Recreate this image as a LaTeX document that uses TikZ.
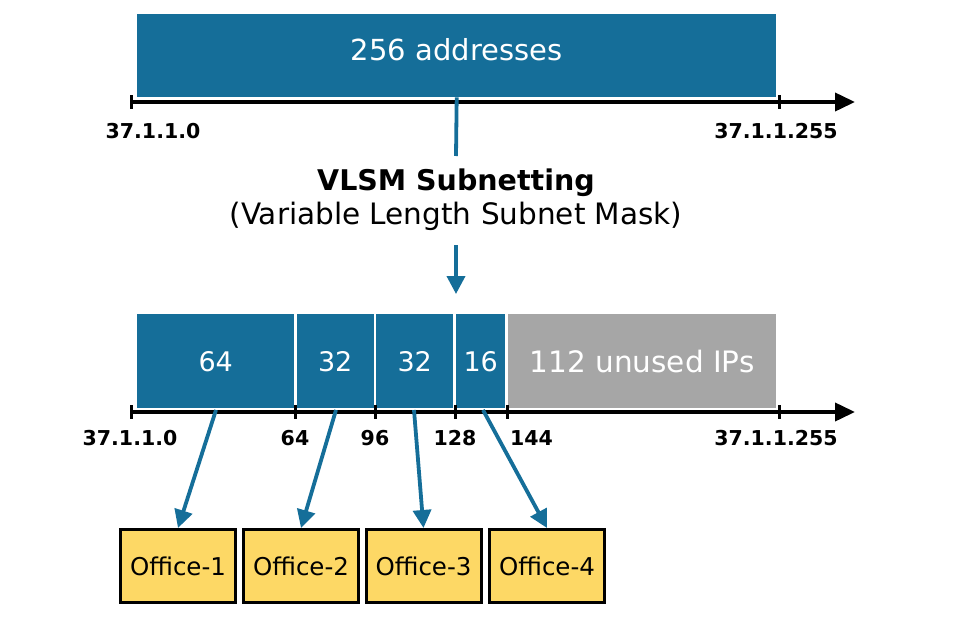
\documentclass[tikz,border=0pt]{standalone}
\usepackage{fontspec}
\setmainfont{DejaVu Sans}
\usetikzlibrary{arrows.meta}
\definecolor{segblue}{HTML}{156E99}
\definecolor{seggray}{HTML}{A6A6A6}
\definecolor{officey}{HTML}{FDD865}
\tikzset{
  seg/.style={fill=segblue, draw=none, text=white, inner sep=0pt, minimum height=94pt, anchor=north west, font=\fontsize{27}{30}\selectfont},
  unused/.style={fill=seggray, draw=none, text=white, inner sep=0pt, minimum height=94pt, anchor=north west, font=\fontsize{29.5}{32}\selectfont},
  axisline/.style={line width=3.8pt, -{Triangle[length=20pt,width=18pt]}},
  tick/.style={line width=3pt},
  axlabel/.style={font=\bfseries\fontsize{20.5}{23}\selectfont, inner sep=0pt},
  link/.style={draw=segblue, line width=3.8pt, -{Triangle[length=18pt,width=18pt]}},
  office/.style={draw=black, line width=3pt, fill=officey, minimum width=115pt, minimum height=73pt, inner sep=0pt, font=\fontsize{24.5}{27}\selectfont}
}
\begin{document}
\begin{tikzpicture}[x=1pt,y=-1pt]
\useasboundingbox (0,0) rectangle (972,624);
% top block
\node[fill=segblue, text=white, minimum width=639pt, minimum height=83pt, inner sep=0pt, anchor=north west, font=\fontsize{29}{32}\selectfont] (all) at (137,14) {\raisebox{12pt}{256 addresses}};
\coordinate (a0) at (131,102);
\coordinate (aend) at (855,102);
\draw[axisline] (a0) -- (aend);
\draw[tick] (131,95) -- (131,109);
\draw[tick] (779,95) -- (779,109);
\node[axlabel] (l0) at (153,131) {37.1.1.0};
\node[axlabel] (l255) at (776,131) {37.1.1.255};
% middle
\coordinate (v1) at (456,156);
\draw[draw=segblue, line width=3.8pt] (all.south) -- (v1);
\node[font=\bfseries\fontsize{28.5}{32}\selectfont, inner sep=0pt] (title) at (456,183) {VLSM Subnetting};
\node[font=\fontsize{29.5}{32}\selectfont, inner sep=0pt] (sub) at (456,216) {(Variable Length Subnet Mask)};
\coordinate (v2) at (456,245);
\coordinate (v3) at (456,294);
\draw[link] (v2) -- (v3);
% bottom bar
\node[seg, minimum width=157pt] (s1) at (137,314) {64};
\node[seg, minimum width=77pt] (s2) at (296.5,314) {32};
\node[seg, minimum width=77pt] (s3) at (376,314) {32};
\node[seg, minimum width=49pt] (s4) at (456,314) {16};
\node[unused, minimum width=268pt] (s5) at (508,314) {112 unused IPs};
\coordinate (b0) at (131,412);
\coordinate (bend) at (855,412);
\draw[axisline] (b0) -- (bend);
\foreach \xx in {131,295,375,455,507,779} \draw[tick] (\xx,405) -- (\xx,419);
\node[axlabel] (m0) at (130,438) {37.1.1.0};
\node[axlabel] (m64) at (295,438) {64};
\node[axlabel] (m96) at (375,438) {96};
\node[axlabel] (m128) at (455,438) {128};
\node[axlabel, anchor=west] (m144) at (510,438) {144};
\node[axlabel] (m255) at (776,438) {37.1.1.255};
% offices
\node[office] (o1) at (178,566) {Office-1};
\node[office] (o2) at (301,566) {Office-2};
\node[office] (o3) at (423.5,566) {Office-3};
\node[office] (o4) at (547,566) {Office-4};
\coordinate (p1) at (216,410);
\coordinate (p2) at (336,410);
\coordinate (p3) at (414,410);
\coordinate (p4) at (483,410);
\draw[link] (p1) -- (o1.north);
\draw[link] (p2) -- (o2.north);
\draw[link] (p3) -- (o3.north);
\draw[link] (p4) -- (o4.north);
\end{tikzpicture}
\end{document}
